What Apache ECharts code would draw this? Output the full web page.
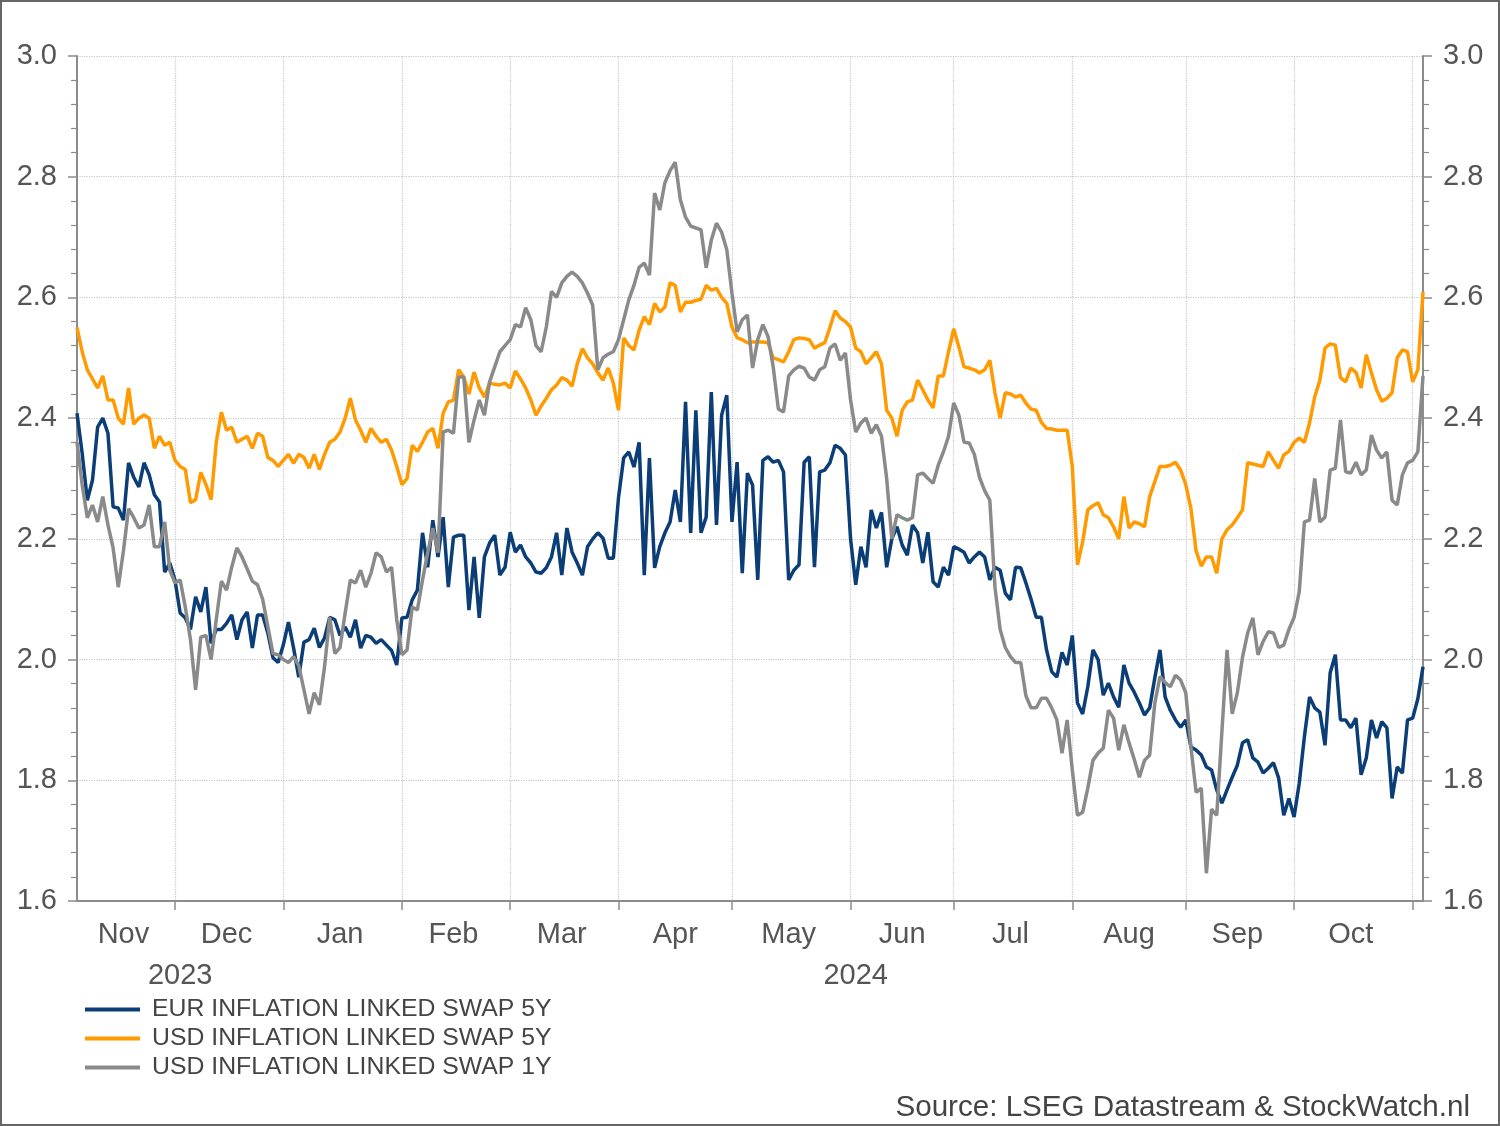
<!DOCTYPE html>
<html>
<head>
<meta charset="utf-8">
<script src="https://cdn.jsdelivr.net/npm/echarts@6/dist/echarts.min.js"></script>
<style>
  html, body { margin: 0; padding: 0; background: #fff; }
  #chart { width: 1500px; height: 1126px; box-sizing: border-box; border: 2px solid #666; }
</style>
</head>
<body>
<div id="chart"></div>
<script>
// business days from first to last observation
var firstDay = '2023-11-06';
var lastDay = '2024-11-05';
var monthNames = ['Jan','Feb','Mar','Apr','May','Jun','Jul','Aug','Sep','Oct','Nov','Dec'];

var seriesNames = ['EUR INFLATION LINKED SWAP 5Y', 'USD INFLATION LINKED SWAP 5Y', 'USD INFLATION LINKED SWAP 1Y'];
var seriesColors = ['#0b3d77', '#ff9a00', '#8a8a8a'];

var eur5y = [
  2.408,2.342,2.264,2.297,2.385,2.40,2.375,2.253,2.251,2.231,
  2.326,2.302,2.286,2.326,2.306,2.273,2.261,2.145,2.16,2.132,
  2.077,2.069,2.05,2.104,2.079,2.12,2.027,2.05,2.05,2.06,
  2.074,2.033,2.066,2.079,2.019,2.074,2.074,2.044,2.003,1.995,
  2.024,2.062,2.019,1.971,2.029,2.033,2.052,2.02,2.036,2.07,
  2.066,2.04,2.054,2.037,2.066,2.019,2.04,2.037,2.027,2.033,
  2.024,2.015,1.991,2.069,2.07,2.099,2.115,2.21,2.153,2.231,
  2.17,2.236,2.12,2.203,2.206,2.206,2.082,2.17,2.069,2.17,
  2.193,2.206,2.14,2.153,2.211,2.178,2.19,2.17,2.16,2.145,
  2.143,2.152,2.17,2.21,2.14,2.218,2.178,2.16,2.14,2.187,
  2.20,2.21,2.201,2.168,2.168,2.268,2.334,2.344,2.319,2.36,
  2.14,2.334,2.152,2.187,2.21,2.228,2.281,2.228,2.427,2.21,
  2.413,2.21,2.236,2.443,2.223,2.405,2.438,2.228,2.327,2.143,
  2.309,2.289,2.132,2.33,2.336,2.327,2.33,2.311,2.132,2.148,
  2.157,2.327,2.336,2.153,2.311,2.314,2.326,2.355,2.35,2.339,
  2.20,2.124,2.187,2.153,2.248,2.218,2.244,2.153,2.20,2.22,
  2.19,2.173,2.223,2.21,2.16,2.211,2.129,2.12,2.153,2.14,
  2.187,2.183,2.178,2.16,2.17,2.178,2.17,2.132,2.153,2.148,
  2.11,2.099,2.153,2.152,2.127,2.10,2.07,2.07,2.016,1.98,
  1.971,2.012,1.991,2.04,1.928,1.91,1.955,2.016,2.00,1.941,
  1.961,1.938,1.921,1.991,1.961,1.946,1.928,1.908,1.92,1.97,
  2.016,1.938,1.916,1.90,1.888,1.90,1.855,1.85,1.842,1.822,
  1.817,1.784,1.762,1.784,1.805,1.825,1.862,1.867,1.837,1.83,
  1.812,1.82,1.829,1.804,1.742,1.77,1.739,1.795,1.872,1.938,
  1.92,1.913,1.858,1.978,2.008,1.90,1.90,1.887,1.903,1.809,
  1.837,1.90,1.87,1.897,1.887,1.77,1.822,1.812,1.90,1.903,
  1.935,1.988
];

var usd5y = [
  2.55,2.51,2.48,2.465,2.45,2.47,2.43,2.43,2.40,2.39,
  2.45,2.39,2.40,2.405,2.40,2.35,2.37,2.355,2.36,2.33,
  2.32,2.315,2.26,2.265,2.31,2.29,2.265,2.36,2.41,2.38,
  2.385,2.36,2.365,2.37,2.35,2.375,2.37,2.335,2.33,2.32,
  2.33,2.34,2.325,2.34,2.335,2.317,2.34,2.315,2.34,2.36,
  2.365,2.377,2.40,2.433,2.397,2.38,2.36,2.383,2.37,2.36,
  2.365,2.347,2.32,2.29,2.30,2.355,2.345,2.36,2.377,2.383,
  2.35,2.408,2.427,2.43,2.48,2.468,2.44,2.476,2.45,2.435,
  2.458,2.456,2.455,2.458,2.45,2.478,2.465,2.45,2.43,2.405,
  2.42,2.433,2.447,2.455,2.467,2.463,2.453,2.49,2.515,2.50,
  2.49,2.475,2.463,2.483,2.458,2.413,2.533,2.52,2.513,2.546,
  2.568,2.555,2.59,2.576,2.584,2.624,2.62,2.576,2.592,2.592,
  2.595,2.597,2.62,2.612,2.615,2.60,2.59,2.551,2.533,2.53,
  2.525,2.526,2.526,2.526,2.525,2.50,2.497,2.493,2.51,2.53,
  2.533,2.532,2.53,2.516,2.521,2.525,2.55,2.578,2.566,2.56,
  2.551,2.516,2.51,2.49,2.50,2.51,2.49,2.413,2.40,2.37,
  2.413,2.427,2.43,2.463,2.447,2.43,2.417,2.47,2.47,2.51,
  2.548,2.518,2.485,2.483,2.48,2.475,2.48,2.496,2.442,2.40,
  2.442,2.44,2.435,2.438,2.425,2.415,2.413,2.393,2.383,2.382,
  2.38,2.38,2.38,2.32,2.157,2.195,2.248,2.255,2.26,2.24,
  2.235,2.22,2.20,2.27,2.218,2.228,2.225,2.22,2.27,2.295,
  2.32,2.32,2.322,2.327,2.314,2.29,2.25,2.18,2.155,2.17,
  2.17,2.143,2.20,2.215,2.223,2.235,2.248,2.326,2.324,2.322,
  2.32,2.344,2.33,2.317,2.339,2.345,2.36,2.367,2.36,2.392,
  2.435,2.463,2.516,2.523,2.521,2.467,2.46,2.483,2.476,2.45,
  2.505,2.475,2.447,2.428,2.433,2.442,2.50,2.513,2.51,2.46,
  2.48,2.609
];

var usd1y = [
  2.36,2.29,2.235,2.256,2.228,2.27,2.223,2.185,2.12,2.18,
  2.25,2.235,2.218,2.223,2.256,2.187,2.187,2.228,2.148,2.127,
  2.132,2.087,2.033,1.95,2.037,2.04,2.00,2.066,2.13,2.115,
  2.153,2.185,2.17,2.15,2.13,2.124,2.10,2.055,2.01,2.008,
  2.00,1.995,2.005,1.99,1.95,1.91,1.945,1.925,1.988,2.07,
  2.01,2.02,2.077,2.132,2.127,2.148,2.12,2.143,2.177,2.17,
  2.145,2.153,2.066,2.008,2.016,2.087,2.082,2.132,2.177,2.218,
  2.177,2.377,2.38,2.375,2.468,2.468,2.36,2.397,2.43,2.405,
  2.46,2.485,2.51,2.52,2.53,2.555,2.551,2.583,2.563,2.52,
  2.51,2.551,2.61,2.60,2.624,2.635,2.642,2.635,2.624,2.607,
  2.587,2.48,2.50,2.506,2.51,2.53,2.563,2.596,2.62,2.65,
  2.657,2.637,2.773,2.745,2.79,2.81,2.824,2.762,2.733,2.718,
  2.715,2.712,2.649,2.695,2.723,2.708,2.679,2.607,2.543,2.563,
  2.571,2.483,2.53,2.555,2.535,2.485,2.415,2.41,2.47,2.48,
  2.486,2.483,2.468,2.463,2.48,2.485,2.516,2.523,2.496,2.508,
  2.43,2.377,2.392,2.40,2.375,2.389,2.37,2.30,2.20,2.24,
  2.235,2.231,2.235,2.306,2.309,2.30,2.292,2.322,2.344,2.37,
  2.425,2.405,2.36,2.359,2.34,2.302,2.28,2.264,2.12,2.05,
  2.02,2.005,1.995,1.995,1.94,1.92,1.92,1.936,1.936,1.92,
  1.90,1.845,1.90,1.817,1.742,1.747,1.787,1.833,1.845,1.853,
  1.916,1.903,1.85,1.892,1.862,1.835,1.805,1.833,1.842,1.928,
  1.972,1.962,1.955,1.974,1.966,1.945,1.855,1.78,1.787,1.646,
  1.752,1.742,1.88,2.016,1.91,1.945,2.004,2.044,2.069,2.008,
  2.03,2.046,2.044,2.02,2.024,2.05,2.07,2.112,2.228,2.231,
  2.30,2.228,2.236,2.314,2.317,2.397,2.311,2.309,2.327,2.306,
  2.314,2.372,2.347,2.334,2.344,2.264,2.256,2.306,2.326,2.33,
  2.344,2.47
];

// build weekday categories
var days = [];
var d = new Date(firstDay + 'T00:00:00Z');
var end = new Date(lastDay + 'T00:00:00Z');
while (d <= end) {
  var wd = d.getUTCDay();
  if (wd !== 0 && wd !== 6) days.push(d.toISOString().slice(0, 10));
  d.setUTCDate(d.getUTCDate() + 1);
}

// month starts -> ticks / grid lines, month middles -> labels
var monthStart = {}, monthMid = {}, yearMid = {};
var starts = [];
for (var i = 1; i < days.length; i++) {
  if (days[i].slice(5, 7) !== days[i - 1].slice(5, 7)) { monthStart[i] = true; starts.push(i); }
}
var bounds = [0].concat(starts).concat([days.length]);
for (var k = 0; k < bounds.length - 1; k++) {
  if (bounds[k + 1] - bounds[k] > 10) monthMid[Math.floor((bounds[k] + bounds[k + 1]) / 2)] = true;
}
var yStart = 0;
for (var j = 1; j <= days.length; j++) {
  if (j === days.length || days[j].slice(0, 4) !== days[j - 1].slice(0, 4)) {
    yearMid[Math.floor((yStart + j) / 2)] = true;
    yStart = j;
  }
}

var font = 'Liberation Sans, Arial, sans-serif';
var axisGray = '#8c8c8c';

function yAxisCfg(pos, grid) {
  return {
    type: 'value',
    position: pos,
    min: 1.6,
    max: 3.0,
    interval: 0.2,
    axisLine: { show: true, lineStyle: { color: axisGray, width: 2 } },
    axisTick: { show: true, length: 9, lineStyle: { color: axisGray, width: 1.5 } },
    minorTick: { show: true, splitNumber: 5, length: 6, lineStyle: { color: axisGray, width: 1.2 } },
    axisLabel: {
      margin: 20, fontSize: 29, color: '#555', fontFamily: font,
      formatter: function (v) { return v.toFixed(1); }
    },
    splitLine: { show: grid, lineStyle: { color: '#c8c8c8', type: 'dotted', width: 1.2 } }
  };
}

var chart = echarts.init(document.getElementById('chart'));
var option = {
  animation: false,
  backgroundColor: '#fff',
  textStyle: { fontFamily: font },
  title: {
    text: 'Source: LSEG Datastream & StockWatch.nl',
    right: 23,
    top: 1086,
    textStyle: { fontSize: 29.6, fontWeight: 'normal', color: '#444', fontFamily: font }
  },
  legend: {
    orient: 'vertical',
    left: 78,
    top: 990,
    icon: 'rect',
    itemWidth: 55,
    itemHeight: 4,
    itemGap: 4,
    data: seriesNames,
    textStyle: { fontSize: 24.8, color: '#444', fontFamily: font, lineHeight: 23, padding: [0, 0, 0, 7] }
  },
  grid: { left: 75, right: 75, top: 54, bottom: 223 },
  xAxis: [{
    type: 'category',
    data: days,
    boundaryGap: false,
    axisLine: { lineStyle: { color: axisGray, width: 2 } },
    axisTick: { interval: function (idx) { return !!monthStart[idx]; }, length: 9, lineStyle: { color: axisGray, width: 1.5 } },
    axisLabel: {
      interval: function (idx) { return !!monthMid[idx]; },
      formatter: function (v) { return monthNames[+v.slice(5, 7) - 1]; },
      fontSize: 29, color: '#555', margin: 19, fontFamily: font
    },
    splitLine: { show: true, interval: function (idx) { return !!monthStart[idx]; }, lineStyle: { color: '#c8c8c8', type: 'dotted', width: 1.2 } }
  }, {
    type: 'category',
    data: days,
    boundaryGap: false,
    position: 'bottom',
    offset: 0,
    axisLine: { show: false },
    axisTick: { show: false },
    splitLine: { show: false },
    axisLabel: {
      interval: function (idx) { return !!yearMid[idx]; },
      formatter: function (v) { return v.slice(0, 4); },
      fontSize: 29, color: '#555', margin: 60, fontFamily: font
    }
  }],
  yAxis: [yAxisCfg('left', true), yAxisCfg('right', false)],
  series: [eur5y, usd5y, usd1y].map(function (vals, n) {
    return {
      name: seriesNames[n],
      type: 'line',
      xAxisIndex: 0,
      yAxisIndex: 0,
      data: vals,
      symbol: 'none',
      showSymbol: false,
      color: seriesColors[n],
      lineStyle: { width: 3.5, color: seriesColors[n] }
    };
  })
};
chart.setOption(option);
</script>
</body>
</html>
